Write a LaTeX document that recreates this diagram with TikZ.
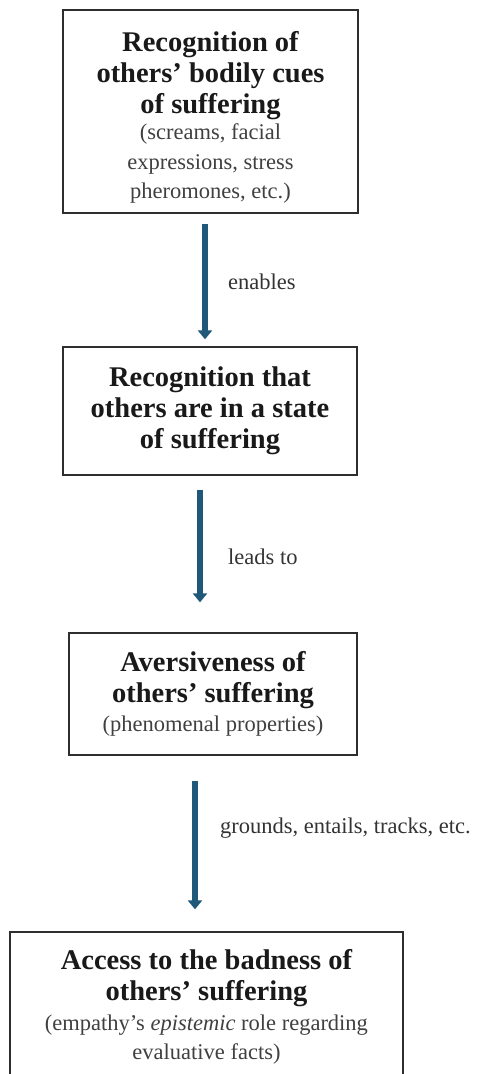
\documentclass[tikz,border=0pt]{standalone}
\usepackage{fontspec}
\setmainfont{Liberation Serif}
\usetikzlibrary{arrows.meta}
\definecolor{arrowblue}{HTML}{1F5878}
\definecolor{boxline}{HTML}{2E2E2E}
\newcommand{\titlef}{\fontsize{28.5}{31}\selectfont\bfseries\spaceskip=.25em\xspaceskip=.25em\relax}
\newcommand{\subf}{\fontsize{22.5}{29.5}\selectfont\spaceskip=.25em\xspaceskip=.25em\relax}
\begin{document}
\begin{tikzpicture}[x=1pt,y=1pt,
  box/.style={draw=boxline, line width=1.3pt, rectangle, align=center, inner sep=0pt, text=black!90},
  arr/.style={draw=arrowblue, line width=5.5pt, -{Triangle[width=14pt,length=9pt]}},
  lab/.style={anchor=west, inner sep=0pt, font=\subf, text=black!80}]
\useasboundingbox (0,0) rectangle (479,-1074);
\clip (0,0) rectangle (479,-1074);
\node[box, minimum width=295pt, minimum height=203pt, text width=290pt] (b1) at (210.5,-111.5)
  {{\titlef Recognition of\\ others’ bodily cues\\ of suffering\par}\vspace{-3pt}{\color{black!75}\subf (screams, facial\\ expressions, stress\\ pheromones, etc.)\par}\vspace{-12pt}};
\node[box, minimum width=294pt, minimum height=128pt, text width=290pt] (b2) at (210,-411)
  {{\titlef Recognition that\\ others are in a state\\ of suffering\par}};
\node[box, minimum width=288pt, minimum height=122pt, text width=284pt] (b3) at (213,-694)
  {{\titlef Aversiveness of\\ others’ suffering\par}\vspace{-1pt}{\color{black!75}\subf (phenomenal properties)\par}};
\node[box, minimum width=393pt, minimum height=150pt, text width=388pt] (b4) at (206.5,-1007)
  {{\titlef Access to the badness of\\ others’ suffering\par}{\color{black!75}\subf (empathy’s \emph{epistemic} role regarding\\ evaluative facts)\par}};
\draw[arr] ([xshift=-5.5pt,yshift=-10pt]b1.south) -- ([xshift=-5pt,yshift=7pt]b2.north);
\draw[arr] ([xshift=-10pt,yshift=-14pt]b2.south) -- ([xshift=-13pt,yshift=30pt]b3.north);
\draw[arr] ([xshift=-18pt,yshift=-25pt]b3.south) -- ([xshift=-11.5pt,yshift=22pt]b4.north);
\node[lab] (l1) at (228,-282) {enables};
\node[lab] (l2) at (228,-557) {leads to};
\node[lab] (l3) at (220,-828) {grounds, entails, tracks, etc.};
\end{tikzpicture}
\end{document}
